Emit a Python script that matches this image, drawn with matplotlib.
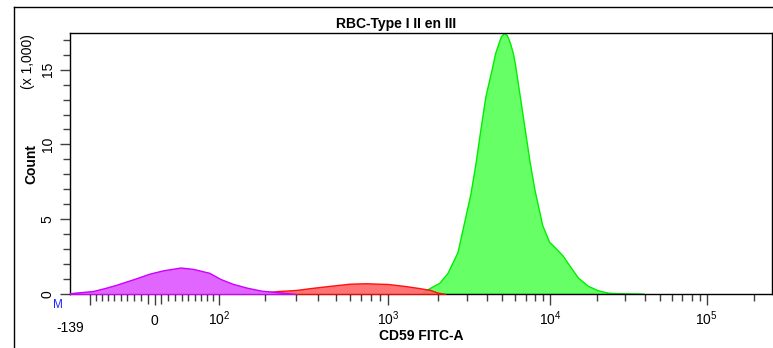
import numpy as np
import matplotlib
matplotlib.use('Agg')
import matplotlib.pyplot as plt
from matplotlib.lines import Line2D
from matplotlib.transforms import blended_transform_factory

plt.rcParams['font.family'] = ['Liberation Sans', 'DejaVu Sans']
plt.rcParams['mathtext.default'] = 'regular'

# -----------------------------
# data (counts in thousands)
# -----------------------------
mag_x = [-139, -125, -95, -75, -58, -30, -8, 12, 38, 57, 83, 103, 126, 156, 191, 248, 300]
mag_y = [0.05, 0.1, 0.2, 0.4, 0.6, 1.0, 1.35, 1.58, 1.77, 1.68, 1.42, 1.0, 0.68, 0.42, 0.22, 0.1, 0.0]

red_x = [140, 191, 239, 300, 375, 468, 600, 743, 1000, 1255, 1531, 1791, 1977, 2218]
red_y = [0.02, 0.08, 0.2, 0.27, 0.42, 0.55, 0.69, 0.72, 0.67, 0.54, 0.4, 0.27, 0.1, 0.0]

green_x = [1550, 1791, 2036, 2281, 2630, 2904, 3162, 3396, 3647, 3917, 4325, 4508, 4775,
           4913, 5129, 5346, 5585, 5826, 6000, 6446, 6925, 7413, 7962, 8933, 9862, 11240,
           12070, 12990, 15040, 17390, 20130, 23280, 28130, 37670, 40000]
green_y = [0.0, 0.42, 0.75, 1.4, 2.8, 4.9, 6.7, 8.7, 11.0, 13.2, 15.2, 16.1, 16.9,
           17.25, 17.45, 17.3, 16.8, 16.1, 15.4, 13.2, 11.0, 8.9, 7.0, 4.6, 3.5, 2.9,
           2.55, 2.05, 1.1, 0.55, 0.25, 0.09, 0.04, 0.02, 0.0]

x_major = [-100, 0, 100, 1000, 10000, 100000]
x_major_labels = ['', '0', '$10^{2}$', '$10^{3}$', '$10^{4}$', '$10^{5}$']
x_long = [-10, 10]
x_minor = ([v for v in range(-90, 100, 10) if v not in (-10, 0, 10)]
           + [200, 300, 400, 500, 600, 700, 800, 900]
           + [2000, 3000, 4000, 5000, 6000, 7000, 8000, 9000]
           + [20000, 30000, 40000, 50000, 60000, 70000, 80000, 90000, 200000])
y_major = [0, 5, 10, 15]
y_minor = list(range(0, 18))

# -----------------------------
# logicle (biexponential) scale
# -----------------------------
T, M, W = 262144.0, 4.5, 0.54
m = M * np.log(10)
w = W * np.log(10)
pp = np.linspace(1.0001, 10, 200000)
p = pp[np.argmin(np.abs(2 * pp * np.log(pp) / (pp + 1) - w))]
a = T * np.exp(-(m - w))


def _s_pos(y):
    u = y - w
    return a * (np.exp(u) - p ** 2 * np.exp(-u / p) + p ** 2 - 1)


def logicle_inv(d):
    y = np.asarray(d, dtype=float) * m
    return np.where(y >= w, _s_pos(np.maximum(y, w)), -_s_pos(np.maximum(2 * w - y, w)))


grid_d = np.linspace(-0.05, 1.05, 40001)
grid_v = logicle_inv(grid_d)


def logicle_fwd(x):
    return np.interp(x, grid_v, grid_d)


def logicle_back(d):
    return np.interp(d, grid_d, grid_v)


# -----------------------------
# figure
# -----------------------------
fig = plt.figure(figsize=(7.73, 3.48), dpi=100)
W_PX, H_PX = 773, 348
ax = fig.add_axes([70 / W_PX, 1 - 294 / H_PX, 702 / W_PX, 261 / H_PX])
ax.set_xscale('function', functions=(logicle_fwd, logicle_back))

ax.fill_between(green_x, green_y, 0, facecolor='#66ff66', edgecolor='#00ee00', linewidth=1.0, zorder=2)
ax.fill_between(red_x, red_y, 0, facecolor='#ff6666', edgecolor='#ff0000', linewidth=1.0, alpha=0.9, zorder=3)
ax.fill_between(mag_x, mag_y, 0, facecolor='#e066ff', edgecolor='#cc00ff', linewidth=1.0, zorder=4)

ax.set_xlim(-139, 262144)
ax.set_ylim(0, 17.45)

ax.set_xticks(x_major)
ax.set_xticklabels(x_major_labels)
ax.set_xticks(x_minor, minor=True)
ax.set_yticks(y_major)
ax.set_yticklabels([str(v) for v in y_major], rotation=90, va='center')
ax.set_yticks(y_minor, minor=True)

tick_col = '#404040'
ax.tick_params(axis='x', which='major', length=8, width=1, color=tick_col, labelsize=10, pad=14)
ax.tick_params(axis='x', which='minor', length=5, width=1, color=tick_col)
ax.tick_params(axis='y', which='major', length=7, width=1, color=tick_col, labelsize=10, pad=4)
ax.tick_params(axis='y', which='minor', length=5, width=1, color=tick_col)
for lbl in ax.get_xticklabels():
    lbl.set_va('baseline')

# longer ticks right around zero
trans = blended_transform_factory(ax.transData, ax.transAxes)
for xv in x_long:
    ax.plot([xv, xv], [0, -10 / 261], transform=trans, color=tick_col, lw=1, clip_on=False,
            solid_capstyle='butt')

for s in ax.spines.values():
    s.set_linewidth(1)
    s.set_color('black')

# -139 label sits lower than the others
ax.text(-139, -38 / 261, '-139', transform=trans, ha='center', va='baseline', fontsize=10)
ax.text(-12 / 702, -14 / 261, 'M', transform=ax.transAxes, ha='center', va='baseline',
        fontsize=8.5, color='#2222ff')

ax.set_xlabel('CD59 FITC-A', fontsize=10, fontweight='bold', labelpad=1)
ax.set_ylabel('Count', fontsize=10, fontweight='bold', labelpad=2)
fig.text(28 / W_PX, 1 - 62 / H_PX, '(x 1,000)', rotation=90, ha='center', va='center', fontsize=10)

# title band and outer frame
fig.text(396 / W_PX, 1 - 24 / H_PX, 'RBC-Type I II en III', ha='center', va='center',
         fontsize=10, fontweight='bold')
fig.add_artist(Line2D([13.5 / W_PX, 13.5 / W_PX], [0, 1 - 6.5 / H_PX], color='black', lw=1))
fig.add_artist(Line2D([13.5 / W_PX, 1], [1 - 6.5 / H_PX, 1 - 6.5 / H_PX], color='black', lw=1))

fig.savefig('out.png', dpi=100)
plt.close(fig)
